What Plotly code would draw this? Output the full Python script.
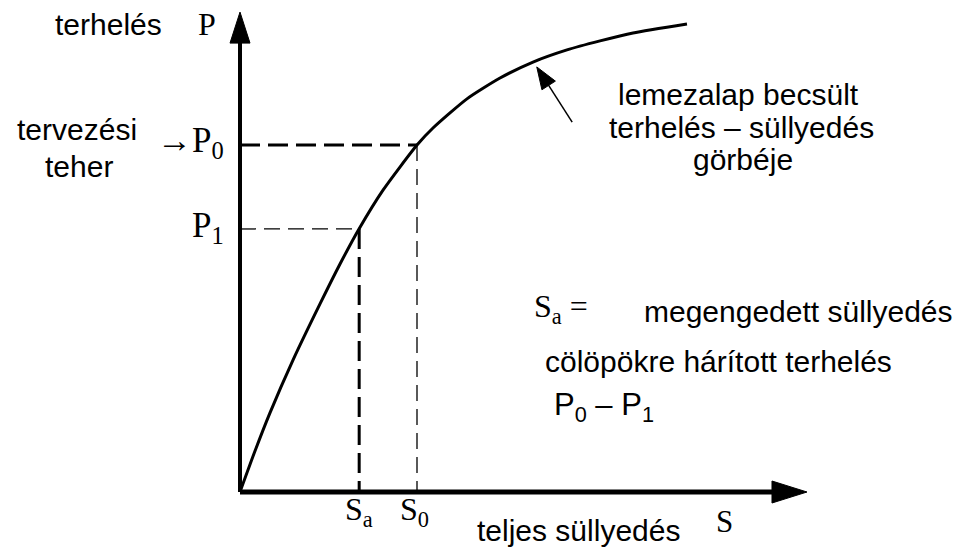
import plotly.graph_objects as go

# ---------------- data (S: settlement units, P: load units) ----------------
S_curve = [0.0, 0.254, 0.508, 0.898, 1.356, 1.695, 2.017, 2.424, 3.000, 3.271, 3.847,
           4.407, 4.966, 5.542, 6.102, 6.661, 7.576]
P_curve = [0.0, 11.8, 22.8, 38.0, 54.2, 65.7, 75.8, 87.0, 100.0, 104.9, 113.3,
           119.3, 123.9, 127.4, 130.0, 132.3, 134.9]

S_a = 2.02      # megengedett süllyedés
S_0 = 3.00      # süllyedés a tervezési tehernél
P_0 = 100.0     # tervezési teher
P_1 = 75.8      # teher a megengedett süllyedésnél

S_AXIS_END = 9.61
P_AXIS_END = 138.3

POINTER_TIP = (5.03, 122.5)
POINTER_TAIL = (5.63, 106.6)

# ---------------- layout geometry ----------------
W, H = 973, 556
OX, OY = 240, 492          # pixel position of the origin
SX, SY = 59.0, 3.47        # pixels per data unit

x_range = [-OX / SX, (W - OX) / SX]
y_range = [-(H - OY) / SY, OY / SY]


def to_px(s, p):
    return OX + s * SX, OY - p * SY


def from_px(x, y):
    return (x - OX) / SX, (OY - y) / SY


SANS = "Liberation Sans, Arial, Helvetica, sans-serif"
SERIF = "Liberation Serif, Times New Roman, serif"

fig = go.Figure()

# estimated load-settlement curve
fig.add_trace(go.Scatter(x=S_curve, y=P_curve, mode="lines",
                         line=dict(color="black", width=3, shape="spline", smoothing=0.6),
                         hoverinfo="skip", showlegend=False))


def arrowhead(tip_s, tip_p, from_s, from_p, length, half_w):
    tx, ty = to_px(tip_s, tip_p)
    fx, fy = to_px(from_s, from_p)
    dx, dy = tx - fx, ty - fy
    n = (dx * dx + dy * dy) ** 0.5
    ux, uy = dx / n, dy / n
    bx, by = tx - ux * length, ty - uy * length
    px_pts = [(tx, ty), (bx - uy * half_w, by + ux * half_w), (bx + uy * half_w, by - ux * half_w), (tx, ty)]
    pts = [from_px(x, y) for x, y in px_pts]
    fig.add_trace(go.Scatter(x=[p[0] for p in pts], y=[p[1] for p in pts], mode="lines",
                             fill="toself", fillcolor="black", line=dict(color="black", width=1),
                             hoverinfo="skip", showlegend=False))
    return from_px(bx, by)


# axes with arrows
ybase = arrowhead(0, P_AXIS_END, 0, 0, 31, 10)
xbase = arrowhead(S_AXIS_END, 0, 0, 0, 35, 11)
fig.add_shape(type="line", x0=0, y0=0, x1=0, y1=ybase[1] + 0.5, line=dict(color="black", width=4))
fig.add_shape(type="line", x0=0, y0=0, x1=xbase[0] + 0.1, y1=0, line=dict(color="black", width=5))

# dashed helper lines
THICK = dict(color="black", width=3, dash="20px,8px")
THIN = dict(color="black", width=1.3, dash="16px,8px")
fig.add_shape(type="line", x0=0, y0=P_0, x1=S_0, y1=P_0, line=THICK)
fig.add_shape(type="line", x0=S_a, y0=P_1, x1=S_a, y1=0, line=THICK)
fig.add_shape(type="line", x0=0, y0=P_1, x1=S_a, y1=P_1, line=THIN)
fig.add_shape(type="line", x0=S_0, y0=P_0, x1=S_0, y1=0, line=THIN)

# pointer arrow to the curve
pbase = arrowhead(POINTER_TIP[0], POINTER_TIP[1], POINTER_TAIL[0], POINTER_TAIL[1], 22, 8)
fig.add_shape(type="line", x0=POINTER_TAIL[0], y0=POINTER_TAIL[1], x1=pbase[0], y1=pbase[1],
              line=dict(color="black", width=1.5))


def label(text, x_px, base_px, size, family=SANS, anchor="left"):
    fig.add_annotation(text=text, xref="paper", yref="paper",
                       x=x_px / W, y=1 - (base_px - 0.35 * size) / H,
                       xanchor=anchor, yanchor="middle", showarrow=False,
                       font=dict(family=family, size=size, color="black"))


label("terhelés", 53, 35, 30)
label("P", 196, 35, 32, SERIF)
label("tervezési", 15, 140, 30)
label("teher", 43, 177, 30)
label("→P<sub>0</sub>", 226, 155, 35, SERIF, "right")
label("P<sub>1</sub>", 226, 240, 35, SERIF, "right")
label("lemezalap becsült", 738, 105, 30, SANS, "center")
label("terhelés – süllyedés", 741, 138, 30, SANS, "center")
label("görbéje", 743, 170, 30, SANS, "center")
label("S<sub>a</sub> =", 532, 320, 32, SERIF)
label("megengedett süllyedés", 642, 322, 30)
label("cölöpökre hárított terhelés", 543, 372, 30)
label("P<sub>0</sub> – P<sub>1</sub>", 552, 418, 31)
label("S<sub>a</sub>", 359, 523, 32, SERIF, "center")
label("S<sub>0</sub>", 414, 523, 32, SERIF, "center")
label("teljes süllyedés", 475, 541, 30)
label("S", 714, 532, 31, SERIF)

fig.update_layout(width=W, height=H, autosize=False,
                  margin=dict(l=0, r=0, t=0, b=0, pad=0),
                  paper_bgcolor="white", plot_bgcolor="white",
                  xaxis=dict(range=x_range, visible=False, fixedrange=True),
                  yaxis=dict(range=y_range, visible=False, fixedrange=True),
                  showlegend=False)

fig.write_html("out.html", config={"displayModeBar": False},
               post_script="document.body.style.margin='0px';")
